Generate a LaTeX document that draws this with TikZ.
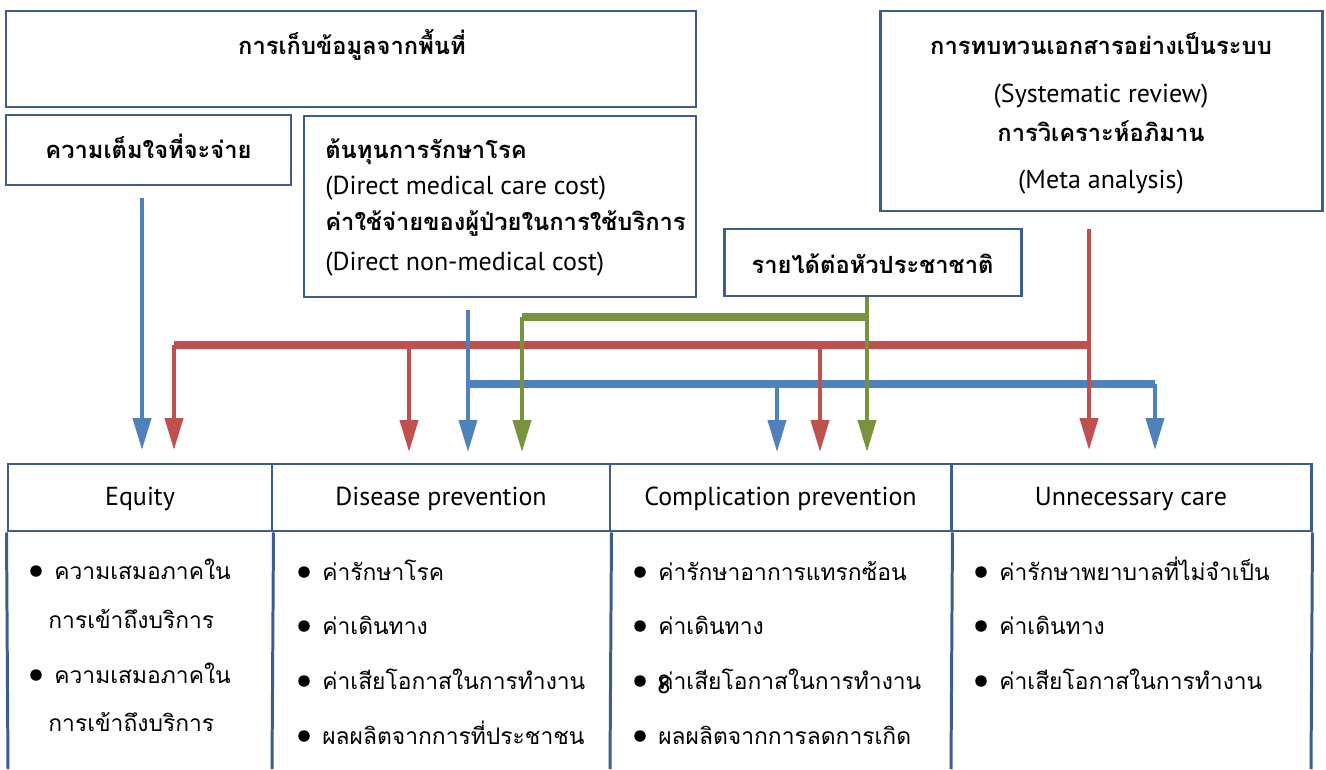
\documentclass[tikz,border=0pt]{standalone}
\usepackage{fontspec}
\setmainfont{PT Sans}
\newfontfamily\thai[Script=Thai]{Loma}
\usetikzlibrary{arrows.meta}

\definecolor{boxblue}{HTML}{3B5E8C}
\definecolor{arrblue}{HTML}{4F81BD}
\definecolor{arrred}{HTML}{C0504D}
\definecolor{arrgreen}{HTML}{77933C}

\tikzset{
  box/.style={draw=boxblue, line width=1.7pt, inner sep=0pt},
  ttl/.style={font=\thai\bfseries\fontsize{13.5}{16}\selectfont, inner sep=0pt, yshift=-0.08cm},
  eng/.style={font=\fontsize{14.8}{17}\selectfont, inner sep=0pt, yshift=-0.08cm},
  itemtxt/.style={font=\thai\fontsize{13}{15}\selectfont, inner sep=0pt, anchor=mid west, yshift=-0.08cm},
  dot/.style={circle, fill=black, inner sep=0pt, minimum size=0.23cm},
  flow/.style={line width=2.3pt},
  bus/.style={line width=4pt},
  tip/.style={-{Triangle[length=0.64cm,width=0.36cm]}}
}

% bullet item: name, x, y, text
\newcommand{\bitem}[4]{%
  \node[dot] (#1d) at (#2,#3) {};
  \node[itemtxt] (#1) at (#2+18,#3) {#4};}

\begin{document}
\begin{tikzpicture}[x=0.02cm,y=0.02cm]
  \useasboundingbox (0,0) rectangle (1326,769);

  % Source boxes
  \node[box, minimum width=690*0.02cm, minimum height=96*0.02cm] (field) at (351,710) {};
  \node[ttl, anchor=mid] (fieldt) at (352,723) {การเก็บข้อมูลจากพื้นที่};

  \node[box, minimum width=285*0.02cm, minimum height=70*0.02cm] (wtp) at (148.5,619) {};
  \node[ttl, anchor=mid] (wtpt) at (148.5,619) {ความเต็มใจที่จะจ่าย};

  \node[box, minimum width=392*0.02cm, minimum height=181*0.02cm] (cost) at (500,562.5) {};
  \node[ttl, anchor=mid west] (costa) at (325,619) {ต้นทุนการรักษาโรค};
  \node[eng, anchor=mid west] (costb) at (325,583) {(Direct medical care cost)};
  \node[ttl, anchor=mid west] (costc) at (325,547) {ค่าใช้จ่ายของผู้ป่วยในการใช้บริการ};
  \node[eng, anchor=mid west] (costd) at (325,507) {(Direct non-medical cost)};

  \node[box, minimum width=442*0.02cm, minimum height=200*0.02cm] (meta) at (1101,658) {};
  \node[ttl, anchor=mid] (metaa) at (1101,723) {การทบทวนเอกสารอย่างเป็นระบบ};
  \node[eng, anchor=mid] (metab) at (1101,675) {(Systematic review)};
  \node[ttl, anchor=mid] (metac) at (1101,636) {การวิเคราะห์อภิมาน};
  \node[eng, anchor=mid] (metad) at (1101,589) {(Meta analysis)};

  \node[box, minimum width=297*0.02cm, minimum height=67*0.02cm] (gni) at (872.5,506.5) {};
  \node[ttl, anchor=mid] (gnit) at (872.5,504) {รายได้ต่อหัวประชาชาติ};

  % Table header cells
  \node[box, minimum width=264*0.02cm, minimum height=67*0.02cm] (equity) at (140,271.5) {};
  \node[box, minimum width=338*0.02cm, minimum height=67*0.02cm] (disease) at (441,271.5) {};
  \node[box, minimum width=341*0.02cm, minimum height=67*0.02cm] (compl) at (780.5,271.5) {};
  \node[box, minimum width=360*0.02cm, minimum height=67*0.02cm] (unnec) at (1131,271.5) {};
  \node[eng, anchor=mid] (equityt) at (equity) {Equity};
  \node[eng, anchor=mid] (diseaset) at (disease) {Disease prevention};
  \node[eng, anchor=mid] (complt) at (compl) {Complication prevention};
  \node[eng, anchor=mid] (unnect) at (unnec) {Unnecessary care};

  % Table body
  \draw[boxblue, line width=1.7pt] (equity.south west) -- (8,0);
  \draw[boxblue, line width=1.7pt] (equity.south east) -- (272,0);
  \draw[boxblue, line width=1.7pt] (disease.south east) -- (610,0);
  \draw[boxblue, line width=1.7pt] (compl.south east) -- (951,0);
  \draw[boxblue, line width=1.7pt] (unnec.south east) -- (1311,0);

  \bitem{eqa}{36}{198}{ความเสมอภาคใน}
  \node[itemtxt] (eqa2) at (48,149) {การเข้าถึงบริการ};
  \bitem{eqb}{36}{94}{ความเสมอภาคใน}
  \node[itemtxt] (eqb2) at (48,46) {การเข้าถึงบริการ};

  \bitem{dpa}{304}{197}{ค่ารักษาโรค}
  \bitem{dpb}{304}{143}{ค่าเดินทาง}
  \bitem{dpc}{304}{88}{ค่าเสียโอกาสในการทำงาน}
  \bitem{dpd}{304}{33}{ผลผลิตจากการที่ประชาชน}

  \bitem{cpa}{640}{197}{ค่ารักษาอาการแทรกซ้อน}
  \bitem{cpb}{640}{143}{ค่าเดินทาง}
  \bitem{cpc}{640}{88}{ค่าเสียโอกาสในการทำงาน}
  \bitem{cpd}{640}{33}{ผลผลิตจากการลดการเกิด}
  \node[eng, anchor=mid] (pagenum) at (664,84) {8};

  \bitem{uca}{981}{197}{ค่ารักษาพยาบาลที่ไม่จำเป็น}
  \bitem{ucb}{981}{143}{ค่าเดินทาง}
  \bitem{ucc}{981}{88}{ค่าเสียโอกาสในการทำงาน}

  % Junctions and arrow ends
  \coordinate (wtpS) at (142,571);
  \coordinate (costS) at (468,459);
  \coordinate (metaS) at (1089,540);
  \coordinate (redJ) at (1089,424);
  \coordinate (blueJ) at (468,385);
  \coordinate (greenJ) at (867,452);
  \coordinate (t1) at (142,319);
  \coordinate (t2) at (174,319);
  \coordinate (t3) at (409,317);
  \coordinate (t4) at (468,317);
  \coordinate (t5) at (522,317);
  \coordinate (t6) at (777,317);
  \coordinate (t7) at (820,317);
  \coordinate (t8) at (867,317);
  \coordinate (t9) at (1089,319);
  \coordinate (t10) at (1155,319);

  % Horizontal buses
  \draw[bus, arrred] (redJ) -- (redJ -| t2);
  \draw[bus, arrblue] (blueJ) -- (blueJ -| t10);
  \draw[bus, arrgreen] (greenJ) -- (greenJ -| t5);

  % Drops
  \draw[flow, tip, arrblue] (wtpS) -- (t1);
  \draw[flow, tip, arrred] (redJ -| t2) -- (t2);
  \draw[flow, tip, arrred] (redJ -| t3) -- (t3);
  \draw[flow, tip, arrblue] (costS) -- (t4);
  \draw[flow, tip, arrgreen] (greenJ -| t5) -- (t5);
  \draw[flow, tip, arrblue] (blueJ -| t6) -- (t6);
  \draw[flow, tip, arrred] (redJ -| t7) -- (t7);
  \draw[flow, tip, arrgreen] (gni.south -| t8) -- (t8);
  \draw[flow, tip, arrred] (metaS) -- (t9);
  \draw[flow, tip, arrblue] (blueJ -| t10) -- (t10);
\end{tikzpicture}
\end{document}
